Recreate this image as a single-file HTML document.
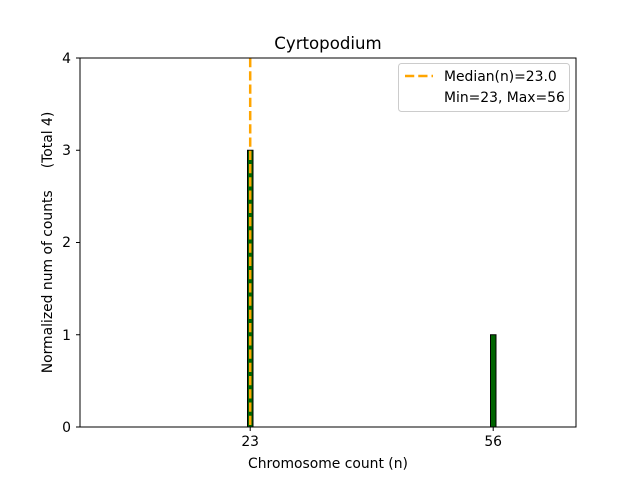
<!DOCTYPE html>
<html><head><meta charset="utf-8"><style>
body{margin:0;background:#fff}
svg{font-family:"DejaVu Sans","Liberation Sans",sans-serif}
text{white-space:pre}
</style></head><body>
<svg width="640" height="480" xmlns="http://www.w3.org/2000/svg" xml:space="preserve">
<rect width="640" height="480" fill="#fff"/>
<rect x="247.5" y="150.25" width="5.5" height="276.75" fill="#006400" stroke="#000" stroke-width="1"/>
<rect x="490.5" y="334.75" width="5.5" height="92.25" fill="#006400" stroke="#000" stroke-width="1"/>
<line x1="250.2" y1="58" x2="250.2" y2="427" stroke="#ffa500" stroke-width="2.5" stroke-dasharray="9.25,4"/>
<rect x="80" y="58" width="496" height="369" fill="none" stroke="#000" stroke-width="1"/>
<g stroke="#000" stroke-width="1">
<line x1="250.2" y1="427" x2="250.2" y2="431"/>
<line x1="493.2" y1="427" x2="493.2" y2="431"/>
<line x1="80" y1="427" x2="76" y2="427"/>
<line x1="80" y1="334.75" x2="76" y2="334.75"/>
<line x1="80" y1="242.5" x2="76" y2="242.5"/>
<line x1="80" y1="150.25" x2="76" y2="150.25"/>
<line x1="80" y1="58" x2="76" y2="58"/>
</g>
<g font-size="13.9" fill="#000">
<text x="250.2" y="446" text-anchor="middle">23</text>
<text x="493.2" y="446" text-anchor="middle">56</text>
<text x="71" y="432" text-anchor="end">0</text>
<text x="71" y="340" text-anchor="end">1</text>
<text x="71" y="247" text-anchor="end">2</text>
<text x="71" y="155" text-anchor="end">3</text>
<text x="71" y="63" text-anchor="end">4</text>
<text x="328" y="468" text-anchor="middle">Chromosome count (n)</text>
<text transform="translate(52,242.5) rotate(-90)" text-anchor="middle">Normalized num of counts     (Total 4)</text>
</g>
<text x="328" y="49" font-size="16.6" text-anchor="middle">Cyrtopodium</text>
<rect x="398.5" y="63.5" width="171" height="48" rx="3" fill="#fff" fill-opacity="0.8" stroke="#ccc"/>
<line x1="405" y1="76" x2="433" y2="76" stroke="#ffa500" stroke-width="2.5" stroke-dasharray="9.25,4"/>
<g font-size="13.9"><text x="444" y="81">Median(n)=23.0</text>
<text x="444" y="102">Min=23, Max=56</text></g>
</svg>
</body></html>
